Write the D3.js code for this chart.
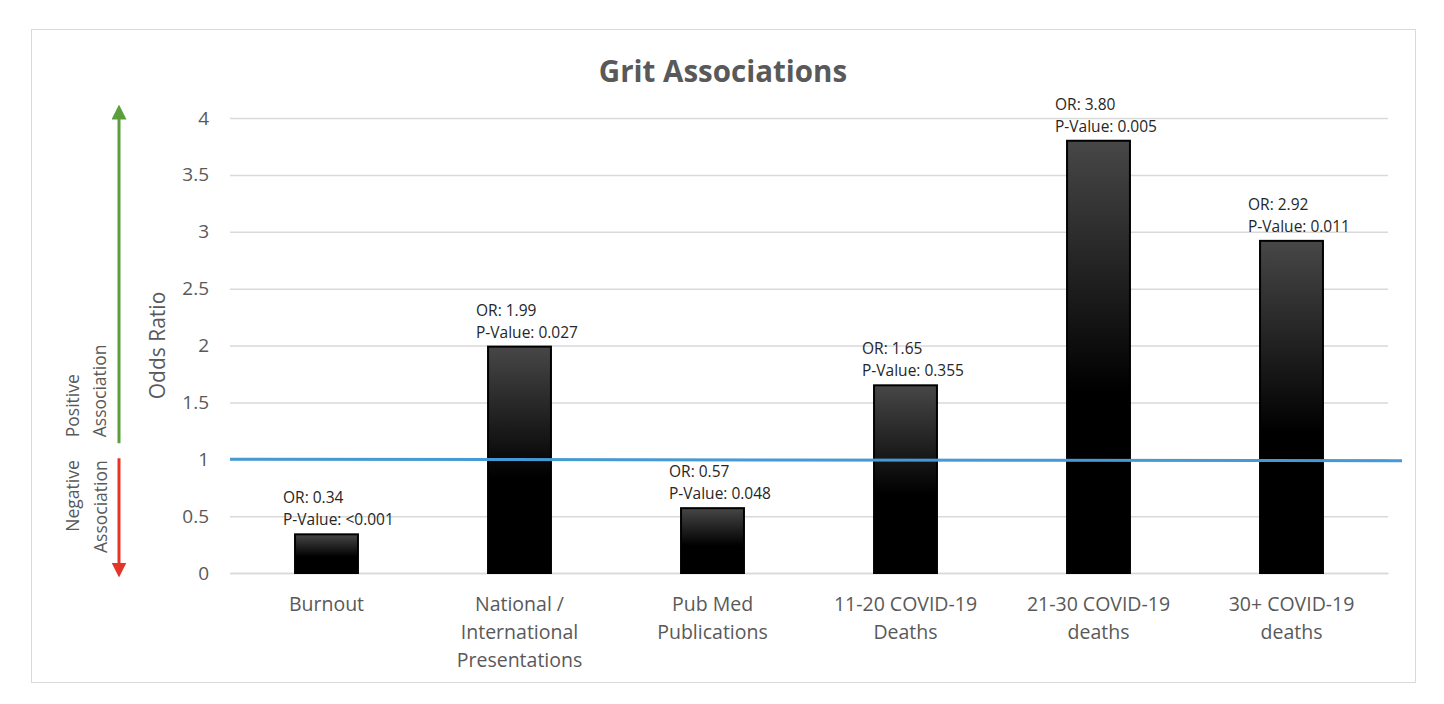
<!DOCTYPE html>
<html>
<head>
<meta charset="utf-8">
<script src="https://cdn.jsdelivr.net/npm/d3@7"></script>
<style>
	body { margin: 0; background: #fff; }
	text { font-family: "Open Sans", sans-serif; }
</style>
</head>
<body>
<div id="chart"></div>
<script>
// data
var categories = ["Burnout", "National / International Presentations", "Pub Med Publications",
	"11-20 COVID-19 Deaths", "21-30 COVID-19 deaths", "30+ COVID-19 deaths"];
var categoryLines = [["Burnout"], ["National /", "International", "Presentations"], ["Pub Med", "Publications"],
	["11-20 COVID-19", "Deaths"], ["21-30 COVID-19", "deaths"], ["30+ COVID-19", "deaths"]];
var oddsRatios = [0.34, 1.99, 0.57, 1.65, 3.80, 2.92];
var pValues = ["<0.001", "0.027", "0.048", "0.355", "0.005", "0.011"];
var yTicks = [0, 0.5, 1, 1.5, 2, 2.5, 3, 3.5, 4];
var referenceOR = 1;

function drawChart(code) {
	let width = 1444;
	let height = 704;
	let plot = { left: 230, right: 1388, top: 118, bottom: 573 };

	var svg = d3.select(code)
		.append("svg")
		.attr("width", width)
		.attr("height", height)
		.attr("viewBox", [0, 0, width, height]);

	// chart border
	svg.append("rect")
		.attr("x", 31.5).attr("y", 29.5)
		.attr("width", 1384).attr("height", 653)
		.attr("fill", "#fff")
		.attr("stroke", "#d9d9d9");

	var x = d3.scaleBand()
		.domain(categories)
		.range([plot.left, plot.right])
		.paddingInner(0.674)
		.paddingOuter(0.337);

	var y = d3.scaleLinear()
		.domain([0, 4])
		.range([plot.bottom, plot.top]);

	// gradient for bars: dark grey at top fading to black
	var defs = svg.append("defs");
	var grad = defs.append("linearGradient")
		.attr("id", "barGrad")
		.attr("x1", 0).attr("y1", 0).attr("x2", 0).attr("y2", 1);
	grad.append("stop").attr("offset", "0%").attr("stop-color", "#474747");
	grad.append("stop").attr("offset", "58%").attr("stop-color", "#000");
	grad.append("stop").attr("offset", "100%").attr("stop-color", "#000");

	// arrow heads
	function marker(id, color) {
		defs.append("marker")
			.attr("id", id)
			.attr("viewBox", "0 0 10 10")
			.attr("refX", 5).attr("refY", 5)
			.attr("markerWidth", 5).attr("markerHeight", 5)
			.attr("markerUnits", "strokeWidth")
			.attr("orient", "auto")
			.append("path")
			.attr("d", "M0,0 L10,5 L0,10 z")
			.attr("fill", color);
	}
	marker("arrowGreen", "#5a9f3c");
	marker("arrowRed", "#e5352a");

	// y axis with gridlines
	var yAxis = svg.append("g")
		.attr("transform", "translate(" + plot.left + ",0)")
		.call(d3.axisLeft(y)
			.tickValues(yTicks)
			.tickSize(-(plot.right - plot.left))
			.tickPadding(21)
			.tickFormat(d3.format("")));
	yAxis.select(".domain").remove();
	yAxis.selectAll(".tick line")
		.attr("stroke", "#d9d9d9")
		.attr("stroke-width", 1.5);
	yAxis.selectAll(".tick text")
		.attr("fill", "#595959")
		.style("font-size", "19px");

	// category axis
	var xAxis = svg.append("g")
		.attr("transform", "translate(0," + plot.bottom + ")")
		.call(d3.axisBottom(x).tickSize(0).tickFormat(""));
	xAxis.select(".domain")
		.attr("stroke", "#d9d9d9")
		.attr("stroke-width", 1.5);

	svg.append("g")
		.selectAll("text")
		.data(categories)
		.enter()
		.append("text")
		.attr("text-anchor", "middle")
		.attr("fill", "#595959")
		.style("font-size", "19.5px")
		.attr("transform", function (d) { return "translate(" + (x(d) + x.bandwidth() / 2) + "," + (plot.bottom + 38) + ")"; })
		.each(function (d, i) {
			var t = d3.select(this);
			categoryLines[i].forEach(function (line, j) {
				t.append("tspan").attr("x", 0).attr("y", j * 28).text(line);
			});
		});

	// bars
	svg.append("g")
		.selectAll("rect")
		.data(categories)
		.enter()
		.append("rect")
		.attr("x", function (d) { return x(d); })
		.attr("y", function (d, i) { return y(oddsRatios[i]); })
		.attr("width", x.bandwidth())
		.attr("height", function (d, i) { return y(0) - y(oddsRatios[i]); })
		.attr("fill", "url(#barGrad)")
		.attr("stroke", "#000")
		.attr("stroke-width", 2);

	// reference line at OR = 1
	svg.append("line")
		.attr("x1", plot.left).attr("x2", 1402)
		.attr("y1", y(referenceOR)).attr("y2", y(referenceOR) + 1.5)
		.attr("stroke", "#4599d4")
		.attr("stroke-width", 3);

	// bar labels
	var labels = svg.append("g")
		.selectAll("text")
		.data(categories)
		.enter()
		.append("text")
		.attr("fill", "#262626")
		.style("font-size", "15.5px")
		.attr("transform", function (d, i) { return "translate(" + (x(d) - 12) + "," + y(oddsRatios[i]) + ")"; });
	labels.append("tspan").attr("x", 0).attr("y", -31)
		.text(function (d, i) { return "OR: " + oddsRatios[i].toFixed(2); });
	labels.append("tspan").attr("x", 0).attr("y", -9)
		.text(function (d, i) { return "P-Value: " + pValues[i]; });

	// title
	svg.append("text")
		.attr("x", 723).attr("y", 82)
		.attr("text-anchor", "middle")
		.attr("fill", "#595959")
		.style("font-size", "29.5px")
		.style("font-weight", "bold")
		.text("Grit Associations");

	// y axis title
	svg.append("text")
		.attr("transform", "translate(165," + ((plot.top + plot.bottom) / 2) + ") rotate(-90)")
		.attr("text-anchor", "middle")
		.attr("fill", "#595959")
		.style("font-size", "21px")
		.text("Odds Ratio");

	// association arrows
	svg.append("line")
		.attr("x1", 119).attr("x2", 119)
		.attr("y1", y(referenceOR) - 16).attr("y2", y(4) - 6)
		.attr("stroke", "#5a9f3c")
		.attr("stroke-width", 3)
		.attr("marker-end", "url(#arrowGreen)");
	svg.append("line")
		.attr("x1", 119).attr("x2", 119)
		.attr("y1", y(referenceOR) - 1).attr("y2", y(0) - 3)
		.attr("stroke", "#e5352a")
		.attr("stroke-width", 3)
		.attr("marker-end", "url(#arrowRed)");

	function sideLabel(xPos, yPos, anchor, txt) {
		svg.append("text")
			.attr("transform", "translate(" + xPos + "," + yPos + ") rotate(-90)")
			.attr("text-anchor", anchor)
			.attr("fill", "#595959")
			.style("font-size", "17.5px")
			.text(txt);
	}
	sideLabel(79, y(referenceOR) - 22, "start", "Positive");
	sideLabel(106, y(referenceOR) - 22, "start", "Association");
	sideLabel(79, y(referenceOR) + 1, "end", "Negative");
	sideLabel(107, y(referenceOR) + 1, "end", "Association");
}

drawChart("#chart");
</script>
</body>
</html>
